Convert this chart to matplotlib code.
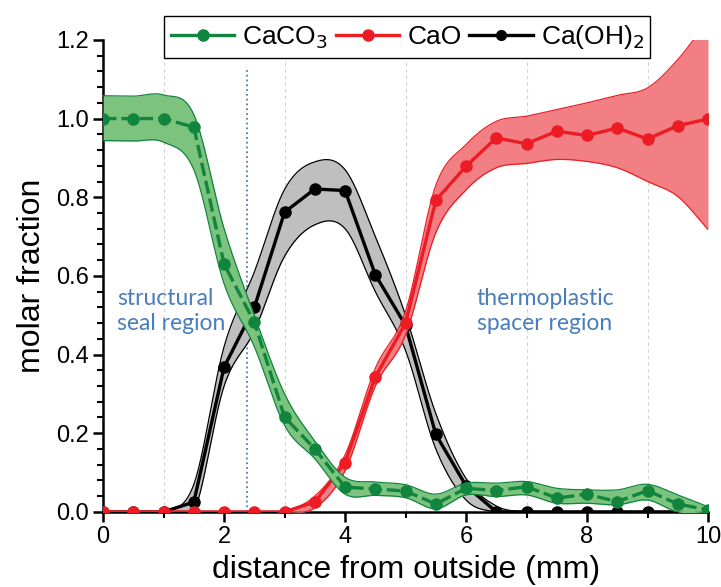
import matplotlib
matplotlib.use("Agg")
import matplotlib.pyplot as plt
import numpy as np
from matplotlib.lines import Line2D
from matplotlib.ticker import MultipleLocator

plt.rcParams['font.family'] = ['Liberation Sans', 'DejaVu Sans']

# distance from outside (mm)
distance = [0.0, 0.5, 1.0, 1.5, 2.0, 2.5, 3.0, 3.5, 4.0, 4.5, 5.0,
            5.5, 6.0, 6.5, 7.0, 7.5, 8.0, 8.5, 9.0, 9.5, 10.0]

# CaCO3
caco3 = [1.00, 1.00, 1.00, 0.978, 0.63, 0.482, 0.241, 0.16, 0.063, 0.058, 0.053,
         0.02, 0.06, 0.054, 0.064, 0.035, 0.045, 0.026, 0.054, 0.02, 0.005]
caco3_hi = [1.058, 1.057, 1.06, 1.01, 0.72, 0.50, 0.30, 0.18, 0.088, 0.076, 0.069,
            0.045, 0.073, 0.073, 0.077, 0.06, 0.056, 0.056, 0.07, 0.043, 0.013]
caco3_lo = [0.944, 0.943, 0.94, 0.87, 0.58, 0.42, 0.22, 0.135, 0.045, 0.042, 0.036,
            0.008, 0.043, 0.039, 0.043, 0.022, 0.022, 0.018, 0.03, 0.0, 0.0]

# CaO
cao = [0, 0, 0, 0, 0, 0, 0, 0.025, 0.125, 0.343, 0.48,
       0.792, 0.879, 0.951, 0.936, 0.968, 0.957, 0.976, 0.948, 0.982, 0.999]
cao_hi = [0, 0, 0, 0, 0, 0, 0.003, 0.04, 0.145, 0.365, 0.51,
          0.83, 0.934, 0.993, 1.006, 1.023, 1.04, 1.059, 1.078, 1.15, 1.25]
cao_lo = [0, 0, 0, 0, 0, 0, 0, 0.01, 0.105, 0.32, 0.45,
          0.71, 0.819, 0.875, 0.886, 0.896, 0.891, 0.875, 0.84, 0.802, 0.718]

# Ca(OH)2
caoh2 = [0, 0, 0, 0.025, 0.368, 0.52, 0.762, 0.821, 0.817, 0.603, 0.474,
         0.197, 0.066, 0, 0, 0, 0, 0, 0, 0, 0]
caoh2_hi = [0, 0, 0, 0.07, 0.42, 0.61, 0.82, 0.89, 0.87, 0.70, 0.50,
            0.25, 0.085, 0.015, 0, 0, 0, 0, 0, 0, 0]
caoh2_lo = [0, 0, 0, 0.0, 0.32, 0.46, 0.65, 0.73, 0.72, 0.56, 0.41,
            0.16, 0.03, 0, 0, 0, 0, 0, 0, 0, 0]

seal_boundary = 2.38

GREEN, GREEN_FILL = '#11843e', '#7cc37e'
RED, RED_FILL = '#ec1c24', '#f27f83'
BLACK, GRAY_FILL = '#000000', '#bfbfbf'
BLUE = '#4a7ebb'


def smooth(x, y, n=25):
    """Catmull-Rom curve through the given points, used to draw the bands."""
    x = np.asarray(x, float)
    y = np.asarray(y, float)
    yp = np.concatenate([[2 * y[0] - y[1]], y, [2 * y[-1] - y[-2]]])
    t = np.linspace(0, 1, n, endpoint=False)
    xs, ys = [], []
    for i in range(1, len(x)):
        p0, p1, p2, p3 = yp[i - 1], yp[i], yp[i + 1], yp[i + 2]
        ys.append(0.5 * (2 * p1 + (-p0 + p2) * t
                         + (2 * p0 - 5 * p1 + 4 * p2 - p3) * t ** 2
                         + (-p0 + 3 * p1 - 3 * p2 + p3) * t ** 3))
        xs.append(x[i - 1] + (x[i] - x[i - 1]) * t)
    xs.append([x[-1]])
    ys.append([y[-1]])
    return np.concatenate(xs), np.concatenate(ys)


def band(ax, x, lo, hi, fill, edge, z):
    xs, ylo = smooth(x, lo)
    _, yhi = smooth(x, hi)
    ax.fill_between(xs, ylo, yhi, color=fill, lw=0, zorder=z)
    ax.plot(xs, ylo, color=edge, lw=0.9, zorder=z + 0.1)
    ax.plot(xs, yhi, color=edge, lw=0.9, zorder=z + 0.1)


fig = plt.figure(figsize=(7.21, 5.87), dpi=100)
ax = fig.add_axes([0.143, 0.128, 0.839, 0.804])

band(ax, distance, caoh2_lo, caoh2_hi, GRAY_FILL, BLACK, 2)
ax.plot(distance, caoh2, color=BLACK, lw=2.4, marker='o', ms=8, zorder=3)

band(ax, distance, cao_lo, cao_hi, RED_FILL, RED, 4)
ax.plot(distance, cao, color=RED, lw=2.4, marker='o', ms=8, zorder=5)

band(ax, distance, caco3_lo, caco3_hi, GREEN_FILL, GREEN, 6)
ax.plot(distance, caco3, color=GREEN, lw=2.4, marker='o', ms=8,
        dashes=(4, 1.5), zorder=7)

ax.axvline(seal_boundary, ymin=0, ymax=1.13 / 1.2, color=BLUE, ls=':', lw=1.3, zorder=1)

ax.text(0.23, 0.57, 'structural\nseal region', color=BLUE, fontsize=16.5,
        family=['Lato', 'DejaVu Sans'], va='top', ha='left', linespacing=1.25)
ax.text(6.18, 0.57, 'thermoplastic\nspacer region', color=BLUE, fontsize=16.5,
        family=['Lato', 'DejaVu Sans'], va='top', ha='left', linespacing=1.25)

ax.set_xlim(0, 10)
ax.set_ylim(0, 1.2)
ax.xaxis.set_major_locator(MultipleLocator(2))
ax.xaxis.set_minor_locator(MultipleLocator(1))
ax.yaxis.set_major_locator(MultipleLocator(0.2))
ax.yaxis.set_minor_locator(MultipleLocator(0.04))
ax.yaxis.set_major_formatter(plt.FormatStrFormatter('%.1f'))
ax.grid(which='minor', axis='x', color='#d0d0d0', ls=(0, (3, 3)), lw=0.8)

for side in ['top', 'right']:
    ax.spines[side].set_visible(False)
for side in ['left', 'bottom']:
    ax.spines[side].set_linewidth(1.8)
ax.tick_params(which='major', direction='out', length=7, width=1.8, labelsize=17)
ax.tick_params(which='minor', direction='out', length=4, width=1.5)

ax.set_xlabel('distance from outside (mm)', fontsize=23, labelpad=5)
ax.set_ylabel('molar fraction', fontsize=23, labelpad=6)

handles = [
    Line2D([], [], color=GREEN, lw=2.4, marker='o', ms=8),
    Line2D([], [], color=RED, lw=2.4, marker='o', ms=8),
    Line2D([], [], color=BLACK, lw=2.4, marker='o', ms=7),
]
leg = ax.legend(handles, ['CaCO$_3$', 'CaO', 'Ca(OH)$_2$'], loc='center',
                bbox_to_anchor=(0.503, 1.006), ncol=3, fontsize=19,
                frameon=True, fancybox=False, edgecolor='black', framealpha=1,
                handlelength=2.4, handletextpad=0.3, columnspacing=0.3,
                borderpad=0.25, borderaxespad=0)
leg.get_frame().set_linewidth(1.0)
leg.set_zorder(20)

fig.savefig('out.png', dpi=100)
plt.close(fig)
